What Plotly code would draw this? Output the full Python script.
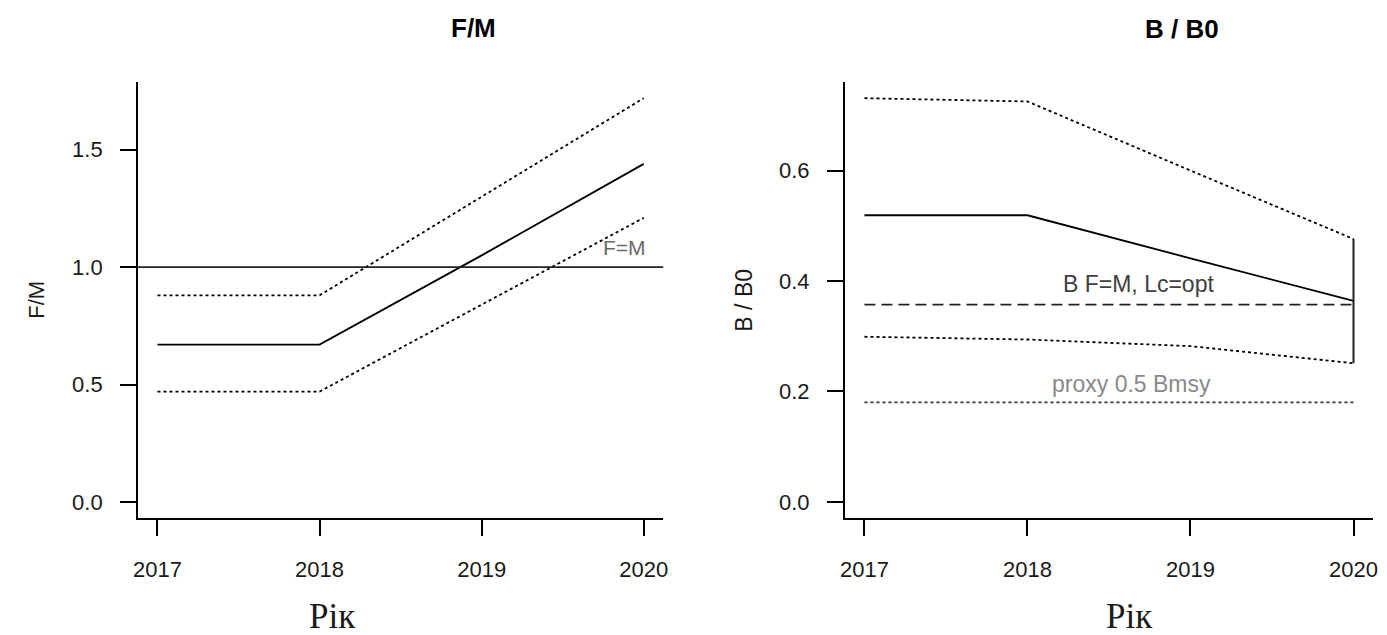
import plotly.graph_objects as go

# Projection years
years = [2017, 2018, 2019, 2020]

# F/M: median and interval bounds
fm_median = [0.67, 0.67, 1.05, 1.44]
fm_upper = [0.88, 0.88, 1.30, 1.72]
fm_lower = [0.47, 0.47, 0.84, 1.21]
fm_ref = 1.0

# B/B0: median and interval bounds
bb_median = [0.519, 0.519, 0.441, 0.364]
bb_upper = [0.731, 0.725, 0.600, 0.476]
bb_lower = [0.299, 0.294, 0.282, 0.251]
bb_fm_lc = 0.357       # B at F=M, Lc=opt
bb_proxy = 0.18        # proxy 0.5 Bmsy

W, H = 1387, 635
SANS = "Liberation Sans, Arial, sans-serif"
SERIF = "Liberation Serif, Times New Roman, serif"
INK = "#1a1a1a"


def px(x):
    return x / W


def py(y):
    return 1 - y / H


fig = go.Figure()

LW = 1.8
DOT = "3px,3px"

# ---- left panel: F/M ----
for ys, dash in ((fm_upper, DOT), (fm_median, "solid"), (fm_lower, DOT)):
    fig.add_trace(go.Scatter(x=years, y=ys, mode="lines", xaxis="x", yaxis="y",
                             line=dict(color="black", width=LW, dash=dash)))
fig.add_shape(type="line", xref="x domain", yref="y", x0=0, x1=1, y0=fm_ref, y1=fm_ref,
              line=dict(color="#222222", width=LW))
fig.add_annotation(x=2019.88, y=fm_ref, xref="x", yref="y", text="F=M", showarrow=False,
                   yanchor="bottom", yshift=6, font=dict(family=SANS, size=21, color="#6a6a6a"))

# ---- right panel: B/B0 ----
for ys, dash in ((bb_upper, DOT), (bb_median, "solid"), (bb_lower, DOT)):
    fig.add_trace(go.Scatter(x=years, y=ys, mode="lines", xaxis="x2", yaxis="y2",
                             line=dict(color="black", width=LW, dash=dash)))
fig.add_trace(go.Scatter(x=[years[0], years[-1]], y=[bb_fm_lc, bb_fm_lc], mode="lines",
                         xaxis="x2", yaxis="y2",
                         line=dict(color="#222222", width=LW, dash="11px,6px")))
fig.add_trace(go.Scatter(x=[years[0], years[-1]], y=[bb_proxy, bb_proxy], mode="lines",
                         xaxis="x2", yaxis="y2",
                         line=dict(color="#333333", width=LW, dash=DOT)))
# interval bar in the final year
fig.add_trace(go.Scatter(x=[years[-1], years[-1]], y=[bb_lower[-1], bb_upper[-1]], mode="lines",
                         xaxis="x2", yaxis="y2", line=dict(color="#222222", width=2)))
fig.add_annotation(x=2018.68, y=bb_fm_lc, xref="x2", yref="y2", text="B F=M, Lc=opt",
                   showarrow=False, yanchor="bottom", yshift=6,
                   font=dict(family=SANS, size=23, color="#404040"))
fig.add_annotation(x=2018.64, y=bb_proxy, xref="x2", yref="y2", text="proxy 0.5 Bmsy",
                   showarrow=False, yanchor="bottom", yshift=3,
                   font=dict(family=SANS, size=23, color="#8a8a8a"))

# ---- axes (L-shaped frame, outward ticks) ----
common = dict(showgrid=False, zeroline=False, showline=True, linecolor="black", linewidth=2,
              ticks="outside", ticklen=16, tickwidth=2, tickcolor="black",
              tickfont=dict(family=SANS, size=22, color=INK), mirror=False)

xr = [2016.88, 2020.12]
fig.update_layout(
    width=W, height=H, margin=dict(l=0, r=0, t=0, b=0),
    paper_bgcolor="white", plot_bgcolor="white", showlegend=False,
    xaxis=dict(domain=[px(134), px(663)], range=xr, tickvals=years, anchor="y",
               ticklabelstandoff=15, **common),
    yaxis=dict(domain=[py(518), py(82)], range=[-0.0688, 1.7888], tickvals=[0, 0.5, 1.0, 1.5],
               ticktext=["0.0", "0.5", "1.0", "1.5"], anchor="x", ticklabelstandoff=13, **common),
    xaxis2=dict(domain=[px(846), px(1378)], range=xr, tickvals=years, anchor="y2",
                ticklabelstandoff=15, **common),
    yaxis2=dict(domain=[py(518), py(82)], range=[-0.0292, 0.7603], tickvals=[0, 0.2, 0.4, 0.6],
                ticktext=["0.0", "0.2", "0.4", "0.6"], anchor="x2", ticklabelstandoff=13, **common),
)

# titles and axis labels
def label(x, y, text, size, family=SANS, angle=0, color=INK):
    fig.add_annotation(x=px(x), y=py(y), xref="paper", yref="paper", text=text,
                       textangle=angle, showarrow=False, xanchor="center", yanchor="middle",
                       font=dict(family=family, size=size, color=color))


label(472, 28, "<b>F/M</b>", 26, color="black")
label(1186, 29, "<b>B / B0</b>", 26, color="black")
label(31, 300, "F/M", 22, angle=-90)
label(744, 300, "B / B0", 23, angle=-90)
label(330, 616, "Рік", 35, family=SERIF)
label(1133, 616, "Рік", 35, family=SERIF)

fig.write_html("out.html")
